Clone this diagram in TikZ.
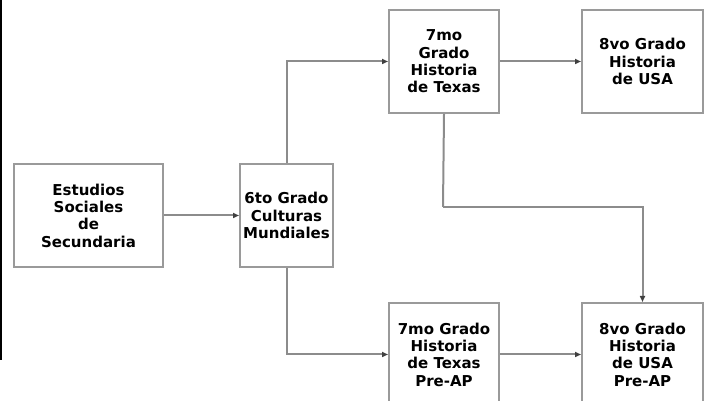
\documentclass[tikz,border=0pt]{standalone}
\usepackage{fontspec}
\setmainfont{DejaVu Sans}
\usetikzlibrary{arrows.meta,calc}
\begin{document}
\begin{tikzpicture}[x=1pt,y=1pt,
  box/.style={draw=boxgray,line width=2pt,fill=white,inner sep=0pt,
    align=center,font=\bfseries\fontsize{15}{17.3}\selectfont},
  conn/.style={draw=linegray,line width=2pt,-{Stealth[length=6pt,width=5pt,inset=0pt,color=tipgray]}},
  plain/.style={draw=linegray,line width=2pt}]
\definecolor{boxgray}{HTML}{9A9A9A}
\definecolor{linegray}{HTML}{8C8C8C}
\definecolor{tipgray}{HTML}{404040}
\useasboundingbox (0,0) rectangle (709,401);
\clip (0,0) rectangle (709,401);
\fill[black] (0,41) rectangle (2,401);
\node[box,minimum width=149pt,minimum height=103pt] (A) at (88.5,185.5) {Estudios\\Sociales\\de\\Secundaria};
\node[box,minimum width=93pt,minimum height=103pt] (B) at (286.5,185.5) {6to Grado\\Culturas\\Mundiales};
\node[box,minimum width=110pt,minimum height=103pt] (C) at (444,339.5) {7mo\\Grado\\Historia\\de Texas};
\node[box,minimum width=121pt,minimum height=103pt] (D) at (642.5,339.5) {8vo Grado\\Historia\\de USA};
\node[box,minimum width=110pt,minimum height=103pt] (E) at (444,46.5) {7mo Grado\\Historia\\de Texas\\Pre-AP};
\node[box,minimum width=121pt,minimum height=103pt] (F) at (642.5,46.5) {8vo Grado\\Historia\\de USA\\Pre-AP};
\coordinate (j) at (443,194);
\draw[conn] (A.east) -- (B.west);
\draw[conn] (B.north) |- (C.west);
\draw[conn] (B.south) |- (E.west);
\draw[conn] (C.east) -- (D.west);
\draw[conn] (E.east) -- (F.west);
\draw[plain] (C.south) -- (j);
\draw[conn] (j) -| (F.north);
\end{tikzpicture}
\end{document}
